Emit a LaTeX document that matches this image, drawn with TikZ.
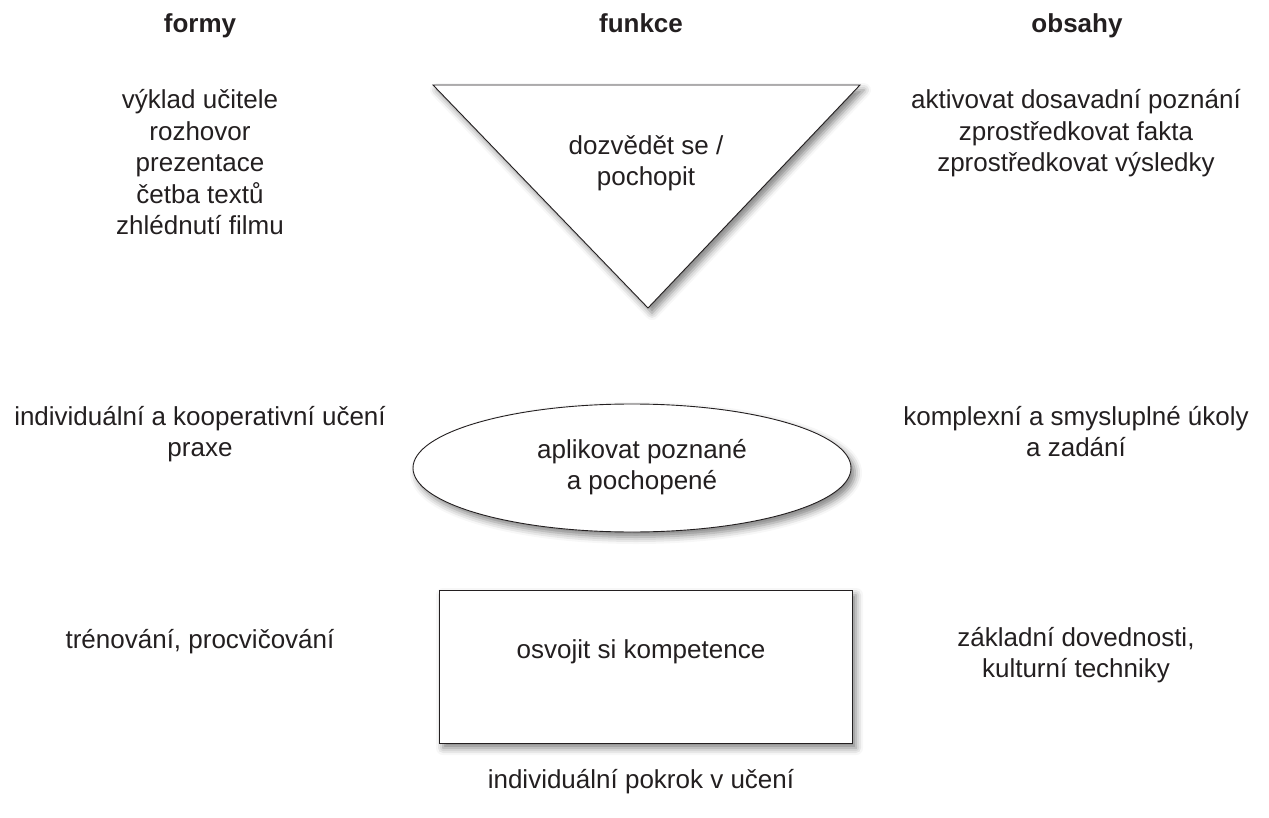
\documentclass[tikz,border=0pt]{standalone}
\usepackage{fontspec}
\setmainfont{Liberation Sans}
\usetikzlibrary{shapes.geometric,shadows.blur}
\definecolor{ink}{HTML}{231F20}
\begin{document}
\begin{tikzpicture}[x=1pt,y=-1pt,
  txt/.style={font=\fontsize{26}{31}\selectfont, text=ink, inner sep=0pt, anchor=base},
  head/.style={font=\fontsize{26}{31}\selectfont\bfseries, text=ink, inner sep=0pt, anchor=base},
  shp/.style={draw=ink, line width=0.9pt, fill=white,
    blur shadow={shadow xshift=4pt, shadow yshift=-5pt, shadow blur radius=7pt, shadow opacity=50}}]
\useasboundingbox (0,0) rectangle (1269,818);
% headers
\node[head] (hf) at (200,33) {formy};
\node[head] (hfu) at (641,33) {funkce};
\node[head] (ho) at (1077,33) {obsahy};
% triangle
\coordinate (tl) at (433,85);
\coordinate (tr) at (860,85);
\coordinate (tb) at (648,308);
\draw[shp, line join=miter] (tl) -- (tr) -- (tb) -- cycle;
\node[txt] (tri1) at (646,155) {dozvědět se /};
\node[txt] (tri2) at (646,186) {pochopit};
% ellipse
\node[shp, ellipse, minimum width=438, minimum height=128, inner sep=0pt] (ell) at (632,468) {};
\node[txt] (ell1) at (642,458) {aplikovat poznané};
\node[txt] (ell2) at (642,489) {a pochopené};
% rectangle
\node[shp, rectangle, minimum width=413, minimum height=153, inner sep=0pt] (rec) at (645.5,666.5) {};
\node[txt] (rec1) at (641,658) {osvojit si kompetence};
% left column
\foreach \t [count=\i] in {výklad učitele, rozhovor, prezentace, četba textů, zhlédnutí filmu}
  \node[txt] (la-\i) at (200,{109+31.5*(\i-1)}) {\t};
\node[txt] (lb-1) at (200,425) {individuální a kooperativní učení};
\node[txt] (lb-2) at (200,456) {praxe};
\node[txt] (lc-1) at (200,648) {trénování, procvičování};
% right column
\foreach \t [count=\i] in {aktivovat dosavadní poznání, zprostředkovat fakta, zprostředkovat výsledky}
  \node[txt] (ra-\i) at (1076,{109+31.5*(\i-1)}) {\t};
\node[txt] (rb-1) at (1076,425) {komplexní a smysluplné úkoly};
\node[txt] (rb-2) at (1076,456) {a zadání};
\node[txt] (rc-1) at (1076,646) {základní dovednosti,};
\node[txt] (rc-2) at (1076,677) {kulturní techniky};
% bottom
\node[txt] (bot) at (641,788) {individuální pokrok v učení};
\end{tikzpicture}
\end{document}
